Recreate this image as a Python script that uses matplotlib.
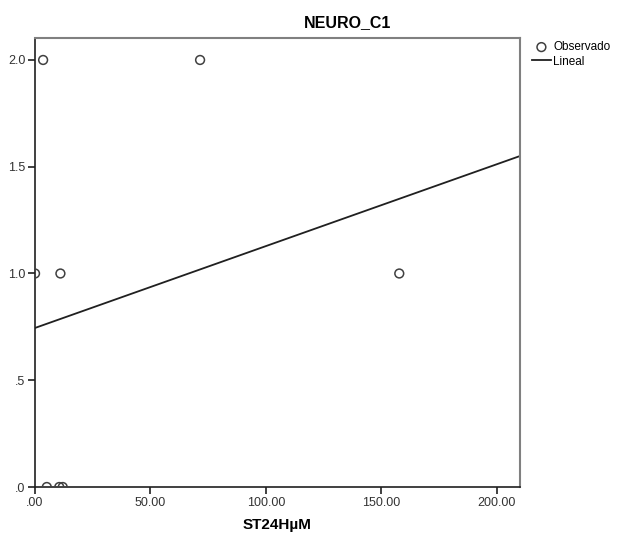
import numpy as np
import matplotlib
matplotlib.use("Agg")
import matplotlib.pyplot as plt

plt.rcParams['font.family'] = ['Liberation Sans', 'DejaVu Sans']

st24h = [0.0, 3.5, 71.5, 11.0, 157.8, 5.1, 10.5, 12.0]
neuro = [1, 2, 2, 1, 1, 0, 0, 0]

x_ticks = [0, 50, 100, 150, 200]
x_labels = ['.00', '50.00', '100.00', '150.00', '200.00']
y_ticks = [0, 0.5, 1.0, 1.5, 2.0]
y_labels = ['.0', '.5', '1.0', '1.5', '2.0']

# linear fit
b, a = np.polyfit(st24h, neuro, 1)
xs = np.array([0, 210.1])

fig = plt.figure(figsize=(6.2, 5.35), dpi=100)
ax = fig.add_axes([0.0565, 0.0897, 0.7822, 0.8393])

obs = ax.scatter(st24h, neuro, s=40, facecolors='none', edgecolors='#404040',
                 linewidths=1.1, zorder=3)
lin, = ax.plot(xs, a + b * xs, color='#202020', lw=1.3)

ax.set_xlim(0, 210.1)
ax.set_ylim(0, 2.103)
ax.set_xticks(x_ticks)
ax.set_xticklabels(x_labels)
ax.set_yticks(y_ticks)
ax.set_yticklabels(y_labels)
ax.tick_params(direction='out', length=5, width=1.2, labelsize=9, colors='#202020',
               labelcolor='#333333', pad=2)

for side in ['top', 'right']:
    ax.spines[side].set_color('#808080')
    ax.spines[side].set_linewidth(1.5)
for side in ['left', 'bottom']:
    ax.spines[side].set_color('#202020')
    ax.spines[side].set_linewidth(1.2)

ax.set_xlabel('ST24HµM', fontsize=11, fontweight='bold', labelpad=7)
fig.text(0.56, 0.957, 'NEURO_C1', fontsize=11.5, fontweight='bold',
         ha='center', va='center')

fig.legend([obs, lin], ['Observado', 'Lineal'], loc='upper left',
           bbox_to_anchor=(0.858, 0.923), frameon=False, fontsize=8.5,
           handlelength=1.6, handletextpad=0.2, labelspacing=0.2,
           borderpad=0, borderaxespad=0)

fig.savefig('out.png', dpi=100)
